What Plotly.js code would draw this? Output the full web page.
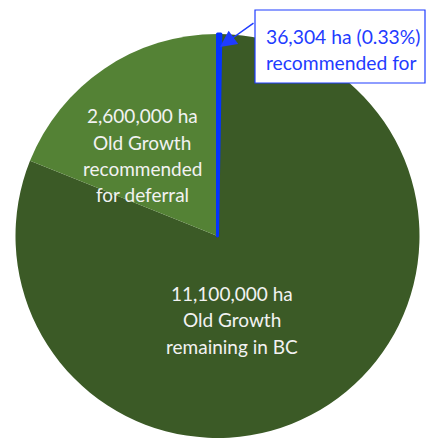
<!DOCTYPE html>
<html>
<head>
<meta charset="utf-8">
<script src="https://cdn.plot.ly/plotly-3.0.1.min.js"></script>
<style>
html,body{margin:0;padding:0;background:#fff;overflow:hidden;}
#chart{width:426px;height:439px;}
</style>
</head>
<body>
<div id="chart"></div>
<script>
// Data
const sliceNames = ["Old Growth remaining in BC", "Old Growth recommended for deferral", "Recommended for deferral (TAP)"];
const sliceValues = [11100000, 2600000, 36304];
const sliceColors = ["#3B5A26", "#548235", "#0433FF"];
const remainingLines = ["11,100,000 ha", "Old Growth", "remaining in BC"];
const deferralLines = ["2,600,000 ha", "Old Growth", "recommended", "for deferral"];
const calloutLines = ["36,304 ha (0.33%)", "recommended for"];

const W = 426, H = 439;
const px = x => x / W;
const py = y => 1 - y / H;
const FONT = "Lato, 'Open Sans', sans-serif";
const total = sliceValues.reduce((a, b) => a + b, 0);
const blueAngle = 360 * sliceValues[2] / total;

const annotations = [];
remainingLines.forEach((t, i) => {
  annotations.push({xref:'paper', yref:'paper', x: px(232), y: py(293 + i*26.5), text: t,
    showarrow:false, xanchor:'center', yanchor:'middle', font:{family:FONT, size:19, color:'#F2F2F2'}});
});
deferralLines.forEach((t, i) => {
  annotations.push({xref:'paper', yref:'paper', x: px(142), y: py(116 + i*26.2), text: t,
    showarrow:false, xanchor:'center', yanchor:'middle', font:{family:FONT, size:19, color:'#F2F2F2'}});
});
calloutLines.forEach((t, i) => {
  annotations.push({xref:'paper', yref:'paper', x: px(264), y: py(36 + i*26.5), text: t,
    showarrow:false, xanchor:'left', yanchor:'middle', font:{family:FONT, size:19.3, color:'#1F3CFF'}});
});
annotations.push({xref:'paper', yref:'paper', x: px(220), y: py(47), text:'', showarrow:true,
  ax: 35, ay: -25, arrowhead:2, arrowsize:2.2, arrowwidth:1.5, arrowcolor:'#1F3CFF'});

const trace = {
  type:'pie',
  values: sliceValues,
  labels: sliceNames,
  sort:false,
  direction:'clockwise',
  rotation: blueAngle,
  textinfo:'none',
  hoverinfo:'label+value',
  marker:{colors: sliceColors, line:{color: sliceColors, width:[0,0,3]}},
  domain:{x:[px(217.5-202), px(217.5+202)], y:[1 - (236+202)/H, 1 - (236-202)/H]},
  showlegend:false
};

const layout = {
  width:W, height:H,
  margin:{l:0,r:0,t:0,b:0},
  paper_bgcolor:'#ffffff',
  plot_bgcolor:'#ffffff',
  showlegend:false,
  shapes:[{type:'rect', xref:'paper', yref:'paper', x0:px(255), x1:px(425), y0:py(10), y1:py(83),
    fillcolor:'#ffffff', line:{color:'#1F3CFF', width:1.2}, layer:'above'}],
  annotations: annotations
};

Plotly.newPlot('chart', [trace], layout, {displayModeBar:false, staticPlot:true});
</script>
</body>
</html>
